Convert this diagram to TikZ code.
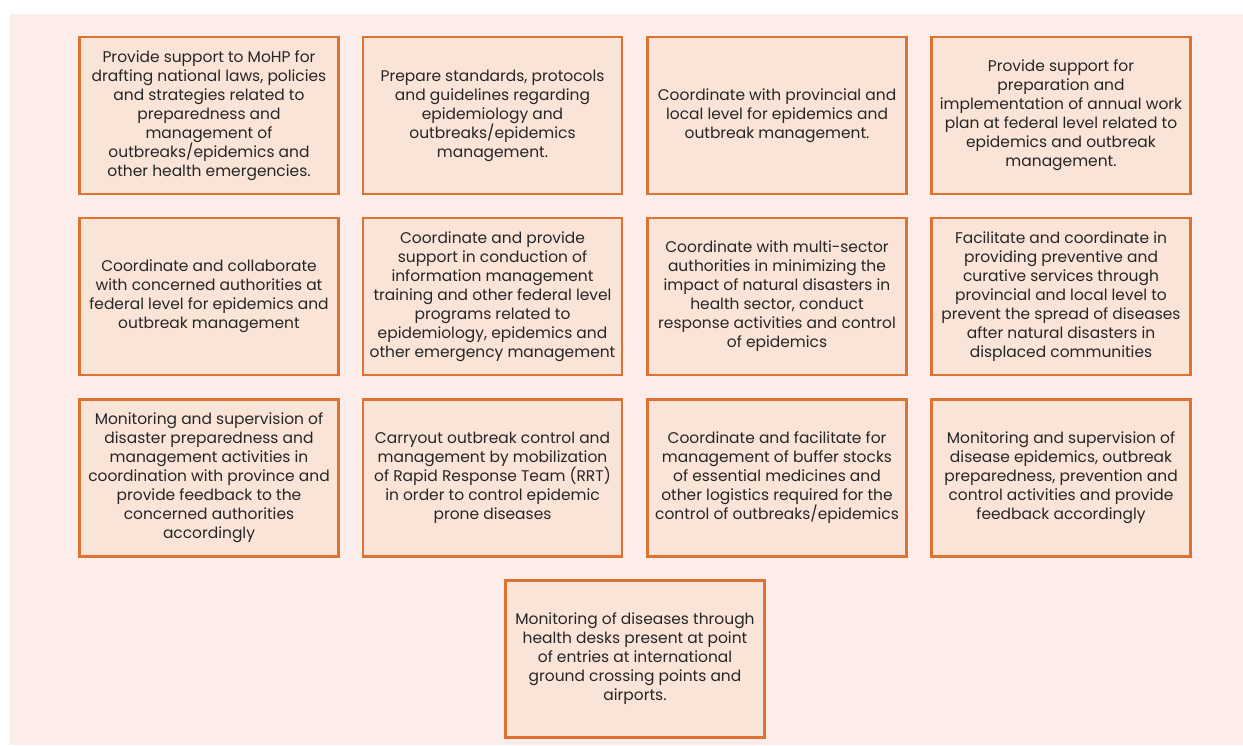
\documentclass[tikz,border=0pt]{standalone}
\usepackage{fontspec}
\setmainfont{Poppins}
\usetikzlibrary{positioning}

\definecolor{pagebg}{HTML}{FDEDEA}
\definecolor{boxfill}{HTML}{FAE4D7}
\definecolor{boxline}{HTML}{DE7230}
\definecolor{txtgray}{HTML}{262626}

\begin{document}
\begin{tikzpicture}[
    x=0.02cm, y=-0.02cm, % one unit = one pixel of the reference
    task/.style={draw=boxline, fill=boxfill, line width=1.4pt, text=txtgray,
        minimum width=5.18cm, minimum height=3.14cm, align=center, inner sep=2pt,
        font=\fontsize{8.8}{10.8}\selectfont} % Style for every duty box
]

    % Page background
    \useasboundingbox (0,0) rectangle (1243,745);
    \fill[pagebg] (10,14) rectangle (1243,745);

    % Row 1
    \node[task] (draft) at (209,115.5) {Provide support to MoHP for\\drafting national laws, policies\\and strategies related to\\preparedness and\\management of\\outbreaks/epidemics and\\other health emergencies.};
    \node[task] (standards) at (492.5,115.5) {Prepare standards, protocols\\and guidelines regarding\\epidemiology and\\outbreaks/epidemics\\management.};
    \node[task] (provincial) at (777,115.5) {Coordinate with provincial and\\local level for epidemics and\\outbreak management.};
    \node[task] (workplan) at (1061,115.5) {Provide support for\\preparation and\\implementation of annual work\\plan at federal level related to\\epidemics and outbreak\\management.};

    % Row 2
    \node[task] (federal) at (209,296.5) {Coordinate and collaborate\\with concerned authorities at\\federal level for epidemics and\\outbreak management};
    \node[task] (training) at (492.5,296.5) {Coordinate and provide\\support in conduction of\\information management\\training and other federal level\\programs related to\\epidemiology, epidemics and\\other emergency management};
    \node[task] (multisector) at (777,296.5) {Coordinate with multi-sector\\authorities in minimizing the\\impact of natural disasters in\\health sector, conduct\\response activities and control\\of epidemics};
    \node[task] (curative) at (1061,296.5) {Facilitate and coordinate in\\providing preventive and\\curative services through\\provincial and local level to\\prevent the spread of diseases\\after natural disasters in\\displaced communities};

    % Row 3
    \node[task] (disaster) at (209,478) {Monitoring and supervision of\\disaster preparedness and\\management activities in\\coordination with province and\\provide feedback to the\\concerned authorities\\accordingly};
    \node[task] (rrt) at (492.5,478) {Carryout outbreak control and\\management by mobilization\\of Rapid Response Team (RRT)\\in order to control epidemic\\prone diseases};
    \node[task] (buffer) at (777,478) {Coordinate and facilitate for\\management of buffer stocks\\of essential medicines and\\other logistics required for the\\control of outbreaks/epidemics};
    \node[task] (feedback) at (1061,478) {Monitoring and supervision of\\disease epidemics, outbreak\\preparedness, prevention and\\control activities and provide\\feedback accordingly};

    % Row 4
    \node[task] (healthdesk) at (635,659) {Monitoring of diseases through\\health desks present at point\\of entries at international\\ground crossing points and\\airports.};

\end{tikzpicture}
\end{document}
